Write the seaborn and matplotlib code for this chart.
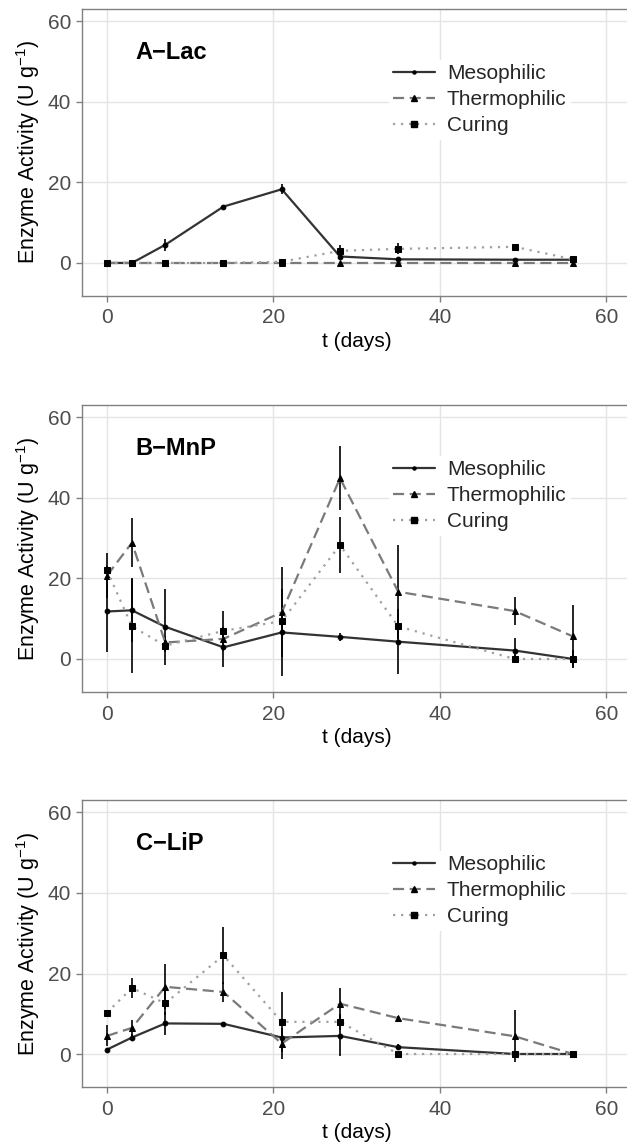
import numpy as np
import pandas as pd
import matplotlib
matplotlib.use("Agg")
import matplotlib.pyplot as plt
import seaborn as sns
from matplotlib.lines import Line2D

# ---------------- data ----------------
days = [0, 3, 7, 14, 21, 28, 35, 49, 56]
series_names = ["Mesophilic", "Thermophilic", "Curing"]
panel_titles = ["A\u2212Lac", "B\u2212MnP", "C\u2212LiP"]

lac_meso = [0.0, 0.0, 4.5, 14.0, 18.3, 1.6, 0.9, 0.8, 0.8]
lac_meso_err = [0.3, 0.3, 1.5, 0.5, 1.2, 0.5, 0.4, 0.3, 0.3]
lac_thermo = [0.0, 0.0, 0.0, 0.0, 0.0, 0.0, 0.0, 0.0, 0.0]
lac_thermo_err = [0.0, 0.0, 0.0, 0.0, 0.0, 0.3, 0.3, 0.3, 0.3]
lac_curing = [0.0, 0.0, 0.0, 0.0, 0.3, 3.0, 3.5, 4.0, 0.9]
lac_curing_err = [0.3, 0.3, 0.3, 0.3, 0.8, 1.5, 1.4, 0.6, 0.5]

mnp_meso = [11.8, 12.1, 8.0, 2.9, 6.6, 5.5, 4.3, 2.1, 0.0]
mnp_meso_err = [10.0, 8.0, 9.5, 5.0, 10.7, 1.0, 8.0, 3.0, 1.0]
mnp_thermo = [20.7, 28.9, 4.1, 5.0, 11.6, 44.9, 16.7, 11.9, 5.6]
mnp_thermo_err = [5.6, 6.0, 1.5, 2.0, 11.2, 8.0, 11.7, 3.4, 7.7]
mnp_curing = [22.0, 8.1, 3.3, 7.0, 9.4, 28.3, 8.1, 0.0, 0.0]
mnp_curing_err = [1.0, 11.7, 1.5, 5.0, 3.0, 7.0, 3.0, 1.0, 2.2]

lip_meso = [1.1, 4.1, 7.6, 7.5, 4.1, 4.5, 1.7, 0.0, 0.0]
lip_meso_err = [0.5, 0.8, 2.8, 0.5, 1.5, 4.9, 0.8, 0.3, 0.3]
lip_thermo = [4.5, 6.5, 16.7, 15.4, 2.6, 12.5, 8.9, 4.4, 0.0]
lip_thermo_err = [2.6, 1.9, 5.6, 2.5, 3.8, 3.9, 0.5, 6.5, 0.3]
lip_curing = [10.3, 16.4, 12.6, 24.5, 8.0, 8.0, 0.0, 0.0, 0.0]
lip_curing_err = [0.5, 2.4, 3.0, 7.1, 7.4, 2.0, 0.3, 0.3, 0.3]

panels = [
    [(lac_meso, lac_meso_err), (lac_thermo, lac_thermo_err), (lac_curing, lac_curing_err)],
    [(mnp_meso, mnp_meso_err), (mnp_thermo, mnp_thermo_err), (mnp_curing, mnp_curing_err)],
    [(lip_meso, lip_meso_err), (lip_thermo, lip_thermo_err), (lip_curing, lip_curing_err)],
]

# ---------------- style ----------------
sns.set_style("white")
plt.rcParams["font.family"] = ["Liberation Sans", "DejaVu Sans"]
plt.rcParams["mathtext.fontset"] = "custom"
plt.rcParams["mathtext.rm"] = "Liberation Sans"

line_colors = {"Mesophilic": "#333333", "Thermophilic": "#7a7a7a", "Curing": "#a0a0a0"}
dash_styles = {"Mesophilic": "", "Thermophilic": (5, 2.5), "Curing": (1, 2.6)}
marker_styles = {"Mesophilic": "o", "Thermophilic": "^", "Curing": "s"}
marker_sizes = {"Mesophilic": 3.4, "Thermophilic": 5.0, "Curing": 5.0}

fig = plt.figure(figsize=(6.27, 11.44), dpi=100)
bottoms = [0.7413, 0.3951, 0.0498]
grid_col = "#e4e4e4"
fs = 15

for idx, (title, pdata) in enumerate(zip(panel_titles, panels)):
    ax = fig.add_axes([0.1308, bottoms[idx], 0.876, 0.2509])
    rows = []
    for name, (vals, errs) in zip(series_names, pdata):
        for d, v, e in zip(days, vals, errs):
            rows.append({"day": d, "value": v, "err": e, "series": name})
    df = pd.DataFrame(rows)

    ax.set_axisbelow(True)
    ax.grid(True, color=grid_col, lw=1.0)

    # error bars
    for name in series_names:
        sub = df[df.series == name]
        ax.errorbar(sub["day"], sub["value"], yerr=sub["err"], fmt="none",
                    ecolor="black", elinewidth=1.2, capsize=0, zorder=3)

    sns.lineplot(data=df, x="day", y="value", hue="series", style="series",
                 hue_order=series_names, style_order=series_names,
                 palette=line_colors, dashes=dash_styles, markers=marker_styles,
                 errorbar=None, legend=False, ax=ax, linewidth=1.6, zorder=4)
    for line, name in zip(ax.lines, series_names):
        line.set_markerfacecolor("black")
        line.set_markeredgecolor("black")
        line.set_markersize(marker_sizes[name])

    ax.set_xlim(-3, 63)
    ax.set_ylim(-8.2, 63.1)
    ax.set_xticks([0, 20, 40, 60])
    ax.set_yticks([0, 20, 40, 60])
    for s in ax.spines.values():
        s.set_color("#808080")
        s.set_linewidth(1.0)
    ax.tick_params(axis="both", length=4, width=1, color="#808080",
                   labelcolor="#4d4d4d", labelsize=fs, pad=4, left=True, bottom=True)
    ax.tick_params(axis="x", pad=5)
    ax.set_xlabel("t (days)", fontsize=fs, color="black", labelpad=3)
    ax.set_ylabel("Enzyme Activity (U g$^{-1}$)", fontsize=fs + 0.5, color="black", labelpad=4)

    ax.text(0.098, 0.847, title, transform=ax.transAxes, fontsize=17,
            fontweight="bold", ha="left", va="center", color="black")

    handles = [Line2D([0], [0], color=line_colors[n], lw=1.6,
                      marker=marker_styles[n], markersize=marker_sizes[n] - 1.2,
                      markerfacecolor="black", markeredgecolor="black")
               for n in series_names]
    for h, n in zip(handles, series_names):
        if dash_styles[n]:
            h.set_dashes(dash_styles[n])
    leg = ax.legend(handles, series_names, loc="upper left",
                    bbox_to_anchor=(0.559, 0.822), fontsize=fs, frameon=True,
                    handlelength=2.0, handletextpad=0.58, labelspacing=0.34,
                    borderpad=0.2, borderaxespad=0)
    leg.get_frame().set_facecolor("white")
    leg.get_frame().set_edgecolor("none")
    leg.get_frame().set_alpha(1.0)

fig.savefig("out.png", dpi=100)
